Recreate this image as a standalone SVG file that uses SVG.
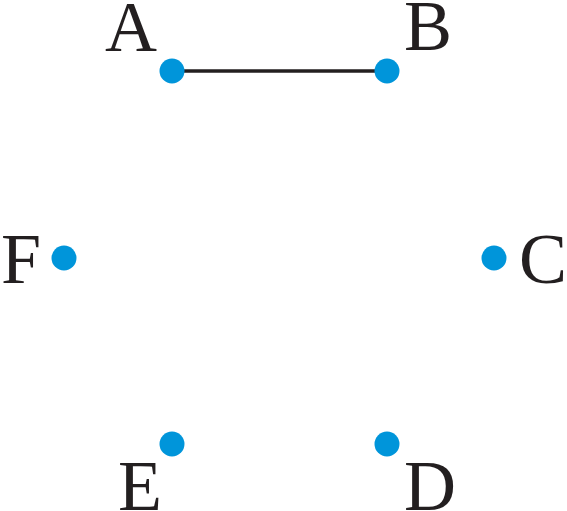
<svg xmlns="http://www.w3.org/2000/svg" width="567" height="511" viewBox="0 0 567 511">
<style>
.pt{fill:#0095da}
.lb{font-size:72px;fill:#231f20}
.ln{stroke:#231f20;stroke-width:3.5;fill:none}
</style>
<rect width="567" height="511" fill="#ffffff"/>
<g id="connectors">
<line class="ln" x1="172" y1="71" x2="387" y2="71"/>
</g>
<g font-family="Liberation Serif, serif">
<g id="A"><circle class="pt" cx="172" cy="71" r="12.5"/><text class="lb" x="105" y="51">A</text></g>
<g id="B"><circle class="pt" cx="387" cy="71" r="12.5"/><text class="lb" x="404" y="50">B</text></g>
<g id="C"><circle class="pt" cx="494" cy="258" r="12.5"/><text class="lb" x="519" y="283">C</text></g>
<g id="D"><circle class="pt" cx="387" cy="444" r="12.5"/><text class="lb" x="404" y="510">D</text></g>
<g id="E"><circle class="pt" cx="172" cy="444" r="12.5"/><text class="lb" x="118" y="510">E</text></g>
<g id="F"><circle class="pt" cx="64" cy="258" r="12.5"/><text class="lb" x="1" y="283">F</text></g>
</g>
</svg>
